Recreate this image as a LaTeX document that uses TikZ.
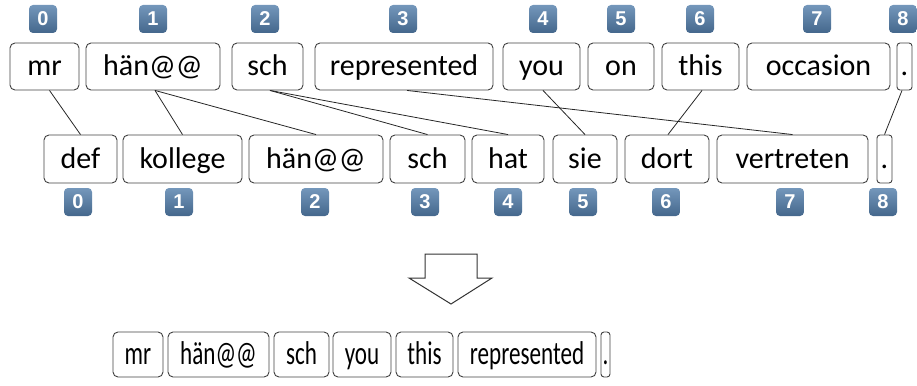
\documentclass[tikz,border=0pt]{standalone}
\usepackage{fontspec}
\setmainfont{Carlito}
\newfontfamily\badgefont{Liberation Sans}
\usepackage{graphicx}
\newcommand{\tokfont}{\fontsize{30}{34}\selectfont}
\newcommand{\resfont}{\fontsize{33}{38}\selectfont}
\newcommand{\sq}[1]{\scalebox{0.7}[1]{\resfont #1}}
\begin{document}
\begin{tikzpicture}[x=1pt,y=-1pt,
  tok/.style={draw=black!75, line width=0.9pt, rounded corners=5pt, inner sep=0pt,
     minimum height=46pt, font=\tokfont},
  toprow/.style={tok, minimum height=47pt, text height=19pt, text depth=1pt},
  midrow/.style={tok, minimum height=48pt, text height=19pt, text depth=1pt},
  resrow/.style={tok, minimum height=45pt, text height=21pt, text depth=2pt},
  badge/.style={draw=none, rounded corners=4pt, minimum width=28pt, minimum height=28pt,
     inner sep=0pt, text=white,
     top color={rgb,255:red,116;green,151;blue,187}, bottom color={rgb,255:red,68;green,103;blue,140},
     font=\badgefont\bfseries\fontsize{20}{22}\selectfont},
  link/.style={line width=0.8pt, black!85}]
\useasboundingbox (0,0) rectangle (917,385);

% top row
\node[toprow, minimum width=69pt]  (t0) at (44.5,66.5) {mr};
\node[toprow, minimum width=134pt] (t1) at (153,66.5) {hän@@};
\node[toprow, minimum width=71pt]  (t2) at (267.5,66.5) {sch};
\node[toprow, minimum width=178pt] (t3) at (404,66.5) {represented};
\node[toprow, minimum width=77pt]  (t4) at (541.5,66.5) {you};
\node[toprow, minimum width=66pt]  (t5) at (621,66.5) {on};
\node[toprow, minimum width=77pt]  (t6) at (700.5,66.5) {this};
\node[toprow, minimum width=143pt] (t7) at (818.5,66.5) {occasion};
\node[toprow, minimum width=15pt, rounded corners=3pt]  (t8) at (904.5,66.5) {.};

% top indices
\foreach \x/\n in {43/0,153/1,265/2,403/3,543/4,621/5,700/6,817/7,903/8}
  \node[badge] (ta\n) at (\x,19) {\n};

% middle row
\node[midrow, minimum width=73pt]  (b0) at (80.5,159) {def};
\node[midrow, minimum width=119pt] (b1) at (182.5,159) {kollege};
\node[midrow, minimum width=134pt] (b2) at (316,159) {hän@@};
\node[midrow, minimum width=75pt]  (b3) at (427.5,159) {sch};
\node[midrow, minimum width=72pt]  (b4) at (508,159) {hat};
\node[midrow, minimum width=64pt]  (b5) at (585,159) {sie};
\node[midrow, minimum width=84pt]  (b6) at (667,159) {dort};
\node[midrow, minimum width=151pt] (b7) at (792.5,159) {vertreten};
\node[midrow, minimum width=15pt, rounded corners=3pt]  (b8) at (884.5,159) {.};

% bottom indices
\foreach \x/\n in {78/0,179/1,315/2,425/3,508/4,583/5,666/6,790/7,883/8}
  \node[badge] (ba\n) at (\x,202) {\n};

% alignment links
\draw[link] ([xshift=5pt]t0.south) -- (b0.north);
\draw[link] ([xshift=2pt]t1.south) -- (b1.north);
\draw[link] ([xshift=2pt]t1.south) -- (b2.north);
\draw[link] ([xshift=2.5pt]t2.south) -- (b3.north);
\draw[link] ([xshift=2.5pt]t2.south) -- (b4.north);
\draw[link] ([xshift=3pt]t3.south) -- (b7.north);
\draw[link] ([xshift=1.5pt]t4.south) -- (b5.north);
\draw[link] ([xshift=1.5pt]t6.south) -- ([xshift=1pt]b6.north);
\draw[link] ([xshift=-2.5pt]t8.south) -- (b8.north);

% arrow
\draw[line width=1pt, black!80, fill=white, line join=miter]
  (425,254) -- (477,254) -- (477,278) -- (492,278) -- (451,304) -- (409,278) -- (425,278) -- cycle;

% result row
\node[resrow, minimum width=50pt]  (r0) at (138,354.5) {\sq{mr}};
\node[resrow, minimum width=101pt] (r1) at (218.5,354.5) {\sq{hän@@}};
\node[resrow, minimum width=55pt]  (r2) at (301.5,354.5) {\sq{sch}};
\node[resrow, minimum width=58pt]  (r3) at (362,354.5) {\sq{you}};
\node[resrow, minimum width=57pt]  (r4) at (424.5,354.5) {\sq{this}};
\node[resrow, minimum width=138pt] (r5) at (527,354.5) {\sq{represented}};
\node[resrow, minimum width=9pt, rounded corners=3pt]  (r6) at (605.5,354.5) {\sq{.}};
\end{tikzpicture}
\end{document}
